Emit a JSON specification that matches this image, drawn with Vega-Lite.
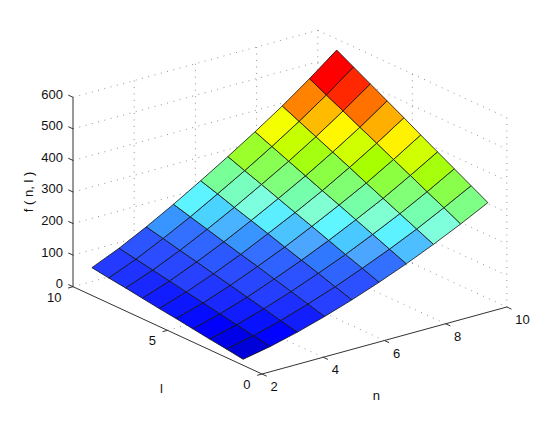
{
"$schema":"https://vega.github.io/schema/vega-lite/v6.json",
"width":560,"height":422,"padding":0,"autosize":{"type":"none"},"background":"white",
"projection":{"type":"identity","scale":1,"translate":[262,374]},
"datasets":{
"grid":[
{"n0":2,"l0":10,"z0":0,"n1":10,"l1":10,"z1":0},{"n0":2,"l0":10,"z0":100,"n1":10,"l1":10,"z1":100},{"n0":2,"l0":10,"z0":200,"n1":10,"l1":10,"z1":200},{"n0":2,"l0":10,"z0":300,"n1":10,"l1":10,"z1":300},{"n0":2,"l0":10,"z0":400,"n1":10,"l1":10,"z1":400},{"n0":2,"l0":10,"z0":500,"n1":10,"l1":10,"z1":500},{"n0":2,"l0":10,"z0":600,"n1":10,"l1":10,"z1":600},
{"n0":10,"l0":10,"z0":0,"n1":10,"l1":0,"z1":0},{"n0":10,"l0":10,"z0":100,"n1":10,"l1":0,"z1":100},{"n0":10,"l0":10,"z0":200,"n1":10,"l1":0,"z1":200},{"n0":10,"l0":10,"z0":300,"n1":10,"l1":0,"z1":300},{"n0":10,"l0":10,"z0":400,"n1":10,"l1":0,"z1":400},{"n0":10,"l0":10,"z0":500,"n1":10,"l1":0,"z1":500},{"n0":10,"l0":10,"z0":600,"n1":10,"l1":0,"z1":600},
{"n0":4,"l0":10,"z0":0,"n1":4,"l1":10,"z1":600},{"n0":6,"l0":10,"z0":0,"n1":6,"l1":10,"z1":600},{"n0":8,"l0":10,"z0":0,"n1":8,"l1":10,"z1":600},{"n0":10,"l0":10,"z0":0,"n1":10,"l1":10,"z1":600},{"n0":10,"l0":5,"z0":0,"n1":10,"l1":5,"z1":600},{"n0":10,"l0":0,"z0":0,"n1":10,"l1":0,"z1":600},
{"n0":4,"l0":0,"z0":0,"n1":4,"l1":10,"z1":0},{"n0":6,"l0":0,"z0":0,"n1":6,"l1":10,"z1":0},{"n0":8,"l0":0,"z0":0,"n1":8,"l1":10,"z1":0},{"n0":2,"l0":5,"z0":0,"n1":10,"l1":5,"z1":0}
],
"axes":[
{"n0":2,"l0":10,"z0":0,"n1":2,"l1":10,"z1":600},{"n0":2,"l0":0,"z0":0,"n1":2,"l1":10,"z1":0},{"n0":2,"l0":0,"z0":0,"n1":10,"l1":0,"z1":0},
{"n0":2,"l0":10,"z0":0,"n1":2,"l1":10.25,"z1":0},{"n0":2,"l0":10,"z0":100,"n1":2,"l1":10.25,"z1":100},{"n0":2,"l0":10,"z0":200,"n1":2,"l1":10.25,"z1":200},{"n0":2,"l0":10,"z0":300,"n1":2,"l1":10.25,"z1":300},{"n0":2,"l0":10,"z0":400,"n1":2,"l1":10.25,"z1":400},{"n0":2,"l0":10,"z0":500,"n1":2,"l1":10.25,"z1":500},{"n0":2,"l0":10,"z0":600,"n1":2,"l1":10.25,"z1":600},
{"n0":2,"l0":0,"z0":0,"n1":2,"l1":-0.25,"z1":0},{"n0":4,"l0":0,"z0":0,"n1":4,"l1":-0.25,"z1":0},{"n0":6,"l0":0,"z0":0,"n1":6,"l1":-0.25,"z1":0},{"n0":8,"l0":0,"z0":0,"n1":8,"l1":-0.25,"z1":0},{"n0":10,"l0":0,"z0":0,"n1":10,"l1":-0.25,"z1":0},
{"n0":2,"l0":0,"z0":0,"n1":1.84,"l1":0,"z1":0},{"n0":2,"l0":5,"z0":0,"n1":1.84,"l1":5,"z1":0},{"n0":2,"l0":10,"z0":0,"n1":1.84,"l1":10,"z1":0}
],
"cells":[
{"n0":2,"n1":2.889,"l0":1,"l1":1.889,"f00":19,"f10":36,"f11":46,"f01":27},
{"n0":2,"n1":2.889,"l0":1.889,"l1":2.778,"f00":27,"f10":46,"f11":56,"f01":34},
{"n0":2,"n1":2.889,"l0":2.778,"l1":3.667,"f00":34,"f10":56,"f11":66,"f01":42},
{"n0":2,"n1":2.889,"l0":3.667,"l1":4.556,"f00":42,"f10":66,"f11":76,"f01":50},
{"n0":2,"n1":2.889,"l0":4.556,"l1":5.444,"f00":50,"f10":76,"f11":86,"f01":57},
{"n0":2,"n1":2.889,"l0":5.444,"l1":6.333,"f00":57,"f10":86,"f11":96,"f01":65},
{"n0":2,"n1":2.889,"l0":6.333,"l1":7.222,"f00":65,"f10":96,"f11":106,"f01":73},
{"n0":2,"n1":2.889,"l0":7.222,"l1":8.111,"f00":73,"f10":106,"f11":116,"f01":80},
{"n0":2,"n1":2.889,"l0":8.111,"l1":9,"f00":80,"f10":116,"f11":126,"f01":88},
{"n0":2.889,"n1":3.778,"l0":1,"l1":1.889,"f00":36,"f10":58,"f11":70,"f01":46},
{"n0":2.889,"n1":3.778,"l0":1.889,"l1":2.778,"f00":46,"f10":70,"f11":83,"f01":56},
{"n0":2.889,"n1":3.778,"l0":2.778,"l1":3.667,"f00":56,"f10":83,"f11":95,"f01":66},
{"n0":2.889,"n1":3.778,"l0":3.667,"l1":4.556,"f00":66,"f10":95,"f11":108,"f01":76},
{"n0":2.889,"n1":3.778,"l0":4.556,"l1":5.444,"f00":76,"f10":108,"f11":120,"f01":86},
{"n0":2.889,"n1":3.778,"l0":5.444,"l1":6.333,"f00":86,"f10":120,"f11":133,"f01":96},
{"n0":2.889,"n1":3.778,"l0":6.333,"l1":7.222,"f00":96,"f10":133,"f11":145,"f01":106},
{"n0":2.889,"n1":3.778,"l0":7.222,"l1":8.111,"f00":106,"f10":145,"f11":158,"f01":116},
{"n0":2.889,"n1":3.778,"l0":8.111,"l1":9,"f00":116,"f10":158,"f11":170,"f01":126},
{"n0":3.778,"n1":4.667,"l0":1,"l1":1.889,"f00":58,"f10":84,"f11":99,"f01":70},
{"n0":3.778,"n1":4.667,"l0":1.889,"l1":2.778,"f00":70,"f10":99,"f11":114,"f01":83},
{"n0":3.778,"n1":4.667,"l0":2.778,"l1":3.667,"f00":83,"f10":114,"f11":129,"f01":95},
{"n0":3.778,"n1":4.667,"l0":3.667,"l1":4.556,"f00":95,"f10":129,"f11":144,"f01":108},
{"n0":3.778,"n1":4.667,"l0":4.556,"l1":5.444,"f00":108,"f10":144,"f11":158,"f01":120},
{"n0":3.778,"n1":4.667,"l0":5.444,"l1":6.333,"f00":120,"f10":158,"f11":173,"f01":133},
{"n0":3.778,"n1":4.667,"l0":6.333,"l1":7.222,"f00":133,"f10":173,"f11":188,"f01":145},
{"n0":3.778,"n1":4.667,"l0":7.222,"l1":8.111,"f00":145,"f10":188,"f11":203,"f01":158},
{"n0":3.778,"n1":4.667,"l0":8.111,"l1":9,"f00":158,"f10":203,"f11":218,"f01":170},
{"n0":4.667,"n1":5.556,"l0":1,"l1":1.889,"f00":84,"f10":113,"f11":130,"f01":99},
{"n0":4.667,"n1":5.556,"l0":1.889,"l1":2.778,"f00":99,"f10":130,"f11":148,"f01":114},
{"n0":4.667,"n1":5.556,"l0":2.778,"l1":3.667,"f00":114,"f10":148,"f11":165,"f01":129},
{"n0":4.667,"n1":5.556,"l0":3.667,"l1":4.556,"f00":129,"f10":165,"f11":182,"f01":144},
{"n0":4.667,"n1":5.556,"l0":4.556,"l1":5.444,"f00":144,"f10":182,"f11":200,"f01":158},
{"n0":4.667,"n1":5.556,"l0":5.444,"l1":6.333,"f00":158,"f10":200,"f11":217,"f01":173},
{"n0":4.667,"n1":5.556,"l0":6.333,"l1":7.222,"f00":173,"f10":217,"f11":234,"f01":188},
{"n0":4.667,"n1":5.556,"l0":7.222,"l1":8.111,"f00":188,"f10":234,"f11":252,"f01":203},
{"n0":4.667,"n1":5.556,"l0":8.111,"l1":9,"f00":203,"f10":252,"f11":269,"f01":218},
{"n0":5.556,"n1":6.444,"l0":1,"l1":1.889,"f00":113,"f10":145,"f11":165,"f01":130},
{"n0":5.556,"n1":6.444,"l0":1.889,"l1":2.778,"f00":130,"f10":165,"f11":184,"f01":148},
{"n0":5.556,"n1":6.444,"l0":2.778,"l1":3.667,"f00":148,"f10":184,"f11":204,"f01":165},
{"n0":5.556,"n1":6.444,"l0":3.667,"l1":4.556,"f00":165,"f10":204,"f11":224,"f01":182},
{"n0":5.556,"n1":6.444,"l0":4.556,"l1":5.444,"f00":182,"f10":224,"f11":243,"f01":200},
{"n0":5.556,"n1":6.444,"l0":5.444,"l1":6.333,"f00":200,"f10":243,"f11":263,"f01":217},
{"n0":5.556,"n1":6.444,"l0":6.333,"l1":7.222,"f00":217,"f10":263,"f11":283,"f01":234},
{"n0":5.556,"n1":6.444,"l0":7.222,"l1":8.111,"f00":234,"f10":283,"f11":302,"f01":252},
{"n0":5.556,"n1":6.444,"l0":8.111,"l1":9,"f00":252,"f10":302,"f11":322,"f01":269},
{"n0":6.444,"n1":7.333,"l0":1,"l1":1.889,"f00":145,"f10":180,"f11":202,"f01":165},
{"n0":6.444,"n1":7.333,"l0":1.889,"l1":2.778,"f00":165,"f10":202,"f11":224,"f01":184},
{"n0":6.444,"n1":7.333,"l0":2.778,"l1":3.667,"f00":184,"f10":224,"f11":246,"f01":204},
{"n0":6.444,"n1":7.333,"l0":3.667,"l1":4.556,"f00":204,"f10":246,"f11":268,"f01":224},
{"n0":6.444,"n1":7.333,"l0":4.556,"l1":5.444,"f00":224,"f10":268,"f11":289,"f01":243},
{"n0":6.444,"n1":7.333,"l0":5.444,"l1":6.333,"f00":243,"f10":289,"f11":311,"f01":263},
{"n0":6.444,"n1":7.333,"l0":6.333,"l1":7.222,"f00":263,"f10":311,"f11":333,"f01":283},
{"n0":6.444,"n1":7.333,"l0":7.222,"l1":8.111,"f00":283,"f10":333,"f11":355,"f01":302},
{"n0":6.444,"n1":7.333,"l0":8.111,"l1":9,"f00":302,"f10":355,"f11":377,"f01":322},
{"n0":7.333,"n1":8.222,"l0":1,"l1":1.889,"f00":180,"f10":218,"f11":242,"f01":202},
{"n0":7.333,"n1":8.222,"l0":1.889,"l1":2.778,"f00":202,"f10":242,"f11":266,"f01":224},
{"n0":7.333,"n1":8.222,"l0":2.778,"l1":3.667,"f00":224,"f10":266,"f11":290,"f01":246},
{"n0":7.333,"n1":8.222,"l0":3.667,"l1":4.556,"f00":246,"f10":290,"f11":314,"f01":268},
{"n0":7.333,"n1":8.222,"l0":4.556,"l1":5.444,"f00":268,"f10":314,"f11":339,"f01":289},
{"n0":7.333,"n1":8.222,"l0":5.444,"l1":6.333,"f00":289,"f10":339,"f11":363,"f01":311},
{"n0":7.333,"n1":8.222,"l0":6.333,"l1":7.222,"f00":311,"f10":363,"f11":387,"f01":333},
{"n0":7.333,"n1":8.222,"l0":7.222,"l1":8.111,"f00":333,"f10":387,"f11":411,"f01":355},
{"n0":7.333,"n1":8.222,"l0":8.111,"l1":9,"f00":355,"f10":411,"f11":435,"f01":377},
{"n0":8.222,"n1":9.111,"l0":1,"l1":1.889,"f00":218,"f10":259,"f11":286,"f01":242},
{"n0":8.222,"n1":9.111,"l0":1.889,"l1":2.778,"f00":242,"f10":286,"f11":312,"f01":266},
{"n0":8.222,"n1":9.111,"l0":2.778,"l1":3.667,"f00":266,"f10":312,"f11":339,"f01":290},
{"n0":8.222,"n1":9.111,"l0":3.667,"l1":4.556,"f00":290,"f10":339,"f11":365,"f01":314},
{"n0":8.222,"n1":9.111,"l0":4.556,"l1":5.444,"f00":314,"f10":365,"f11":392,"f01":339},
{"n0":8.222,"n1":9.111,"l0":5.444,"l1":6.333,"f00":339,"f10":392,"f11":418,"f01":363},
{"n0":8.222,"n1":9.111,"l0":6.333,"l1":7.222,"f00":363,"f10":418,"f11":445,"f01":387},
{"n0":8.222,"n1":9.111,"l0":7.222,"l1":8.111,"f00":387,"f10":445,"f11":471,"f01":411},
{"n0":8.222,"n1":9.111,"l0":8.111,"l1":9,"f00":411,"f10":471,"f11":498,"f01":435},
{"n0":9.111,"n1":10,"l0":1,"l1":1.889,"f00":259,"f10":303,"f11":332,"f01":286},
{"n0":9.111,"n1":10,"l0":1.889,"l1":2.778,"f00":286,"f10":332,"f11":361,"f01":312},
{"n0":9.111,"n1":10,"l0":2.778,"l1":3.667,"f00":312,"f10":361,"f11":390,"f01":339},
{"n0":9.111,"n1":10,"l0":3.667,"l1":4.556,"f00":339,"f10":390,"f11":419,"f01":365},
{"n0":9.111,"n1":10,"l0":4.556,"l1":5.444,"f00":365,"f10":419,"f11":449,"f01":392},
{"n0":9.111,"n1":10,"l0":5.444,"l1":6.333,"f00":392,"f10":449,"f11":478,"f01":418},
{"n0":9.111,"n1":10,"l0":6.333,"l1":7.222,"f00":418,"f10":478,"f11":507,"f01":445},
{"n0":9.111,"n1":10,"l0":7.222,"l1":8.111,"f00":445,"f10":507,"f11":536,"f01":471},
{"n0":9.111,"n1":10,"l0":8.111,"l1":9,"f00":471,"f10":536,"f11":565,"f01":498}
]
},
"layer":[
{"data":{"name":"grid"},
"transform":[{"calculate":"{type:'Feature',properties:{},geometry:{type:'LineString',coordinates:[[30.6*(datum.n0-2)-18.9*datum.l0,-8.375*(datum.n0-2)-8.73*datum.l0-0.3157*datum.z0],[30.6*(datum.n1-2)-18.9*datum.l1,-8.375*(datum.n1-2)-8.73*datum.l1-0.3157*datum.z1]]}}","as":"geo"}],
"mark":{"type":"geoshape","filled":false,"stroke":"#777777","strokeWidth":0.8,"strokeDash":[1,5.5]},
"encoding":{"shape":{"field":"geo","type":"geojson"}}},
{"data":{"name":"axes"},
"transform":[{"calculate":"{type:'Feature',properties:{},geometry:{type:'LineString',coordinates:[[30.6*(datum.n0-2)-18.9*datum.l0,-8.375*(datum.n0-2)-8.73*datum.l0-0.3157*datum.z0],[30.6*(datum.n1-2)-18.9*datum.l1,-8.375*(datum.n1-2)-8.73*datum.l1-0.3157*datum.z1]]}}","as":"geo"}],
"mark":{"type":"geoshape","filled":false,"stroke":"#333333","strokeWidth":1},
"encoding":{"shape":{"field":"geo","type":"geojson"}}},
{"data":{"name":"cells"},
"transform":[{"calculate":"{type:'Feature',properties:{},geometry:{type:'Polygon',coordinates:[[[30.6*(datum.n0-2)-18.9*datum.l0,-8.375*(datum.n0-2)-8.73*datum.l0-0.3157*datum.f00],[30.6*(datum.n1-2)-18.9*datum.l0,-8.375*(datum.n1-2)-8.73*datum.l0-0.3157*datum.f10],[30.6*(datum.n1-2)-18.9*datum.l1,-8.375*(datum.n1-2)-8.73*datum.l1-0.3157*datum.f11],[30.6*(datum.n0-2)-18.9*datum.l1,-8.375*(datum.n0-2)-8.73*datum.l1-0.3157*datum.f01],[30.6*(datum.n0-2)-18.9*datum.l0,-8.375*(datum.n0-2)-8.73*datum.l0-0.3157*datum.f00]]]}}","as":"geo"}],
"mark":{"type":"geoshape","stroke":"#111111","strokeWidth":0.8,"fillOpacity":1},
"encoding":{"shape":{"field":"geo","type":"geojson"},
"color":{"field":"f00","type":"quantitative","legend":null,"scale":{"domain":[19,27,35,60,85,113,130,145,165,180,195,205,218,225,261,290,314,340,360,390,415,445,471],"range":["#0000d8","#0000e8","#0000ff","#1420ff","#2840ff","#2c50ff","#3064ff","#3470ff","#4ca5ff","#4dbeff","#58e4ff","#60f8ff","#80ffdc","#80ffd0","#80ff80","#8cff40","#a8ff00","#d0ff00","#ffff00","#ffb400","#ff7800","#ff2800","#ff0000"]}}}},
{"data":{"values":[{"t":"2","n":2},{"t":"4","n":4},{"t":"6","n":6},{"t":"8","n":8},{"t":"10","n":10}]},
"transform":[{"calculate":"30.6*(datum.n-2)","as":"sx"},{"calculate":"-8.375*(datum.n-2)","as":"sy"}],
"mark":{"type":"text","font":"Liberation Sans","fontSize":13,"align":"left","baseline":"middle","dx":8.5,"dy":13,"color":"#111111"},
"encoding":{"longitude":{"field":"sx","type":"quantitative"},"latitude":{"field":"sy","type":"quantitative"},"text":{"field":"t"}}},
{"data":{"values":[{"t":"0","l":0},{"t":"5","l":5},{"t":"10","l":10}]},
"transform":[{"calculate":"-18.9*datum.l","as":"sx"},{"calculate":"-8.73*datum.l","as":"sy"}],
"mark":{"type":"text","font":"Liberation Sans","fontSize":13,"align":"right","baseline":"middle","dx":-11.5,"dy":11,"color":"#111111"},
"encoding":{"longitude":{"field":"sx","type":"quantitative"},"latitude":{"field":"sy","type":"quantitative"},"text":{"field":"t"}}},
{"data":{"values":[{"t":"0","z":0},{"t":"100","z":100},{"t":"200","z":200},{"t":"300","z":300},{"t":"400","z":400},{"t":"500","z":500},{"t":"600","z":600}]},
"transform":[{"calculate":"-189","as":"sx"},{"calculate":"-87.3-0.3157*datum.z","as":"sy"}],
"mark":{"type":"text","font":"Liberation Sans","fontSize":13,"align":"right","baseline":"middle","dx":-10,"dy":-2.5,"color":"#111111"},
"encoding":{"longitude":{"field":"sx","type":"quantitative"},"latitude":{"field":"sy","type":"quantitative"},"text":{"field":"t"}}},
{"data":{"values":[{"t":"n","n":6}]},
"transform":[{"calculate":"30.6*(datum.n-2)","as":"sx"},{"calculate":"-8.375*(datum.n-2)","as":"sy"}],
"mark":{"type":"text","font":"Liberation Sans","fontSize":13,"align":"center","baseline":"middle","dx":-8,"dy":55,"color":"#111111"},
"encoding":{"longitude":{"field":"sx","type":"quantitative"},"latitude":{"field":"sy","type":"quantitative"},"text":{"field":"t"}}},
{"data":{"values":[{"t":"l","l":5}]},
"transform":[{"calculate":"-18.9*datum.l","as":"sx"},{"calculate":"-8.73*datum.l","as":"sy"}],
"mark":{"type":"text","font":"Liberation Sans","fontSize":13,"align":"center","baseline":"middle","dx":-6,"dy":59,"color":"#111111"},
"encoding":{"longitude":{"field":"sx","type":"quantitative"},"latitude":{"field":"sy","type":"quantitative"},"text":{"field":"t"}}},
{"data":{"values":[{"t":"f ( n, l )","z":300}]},
"transform":[{"calculate":"-189","as":"sx"},{"calculate":"-87.3-0.3157*datum.z","as":"sy"}],
"mark":{"type":"text","font":"Liberation Sans","fontSize":13,"align":"center","baseline":"middle","angle":270,"dx":0,"dy":-44,"color":"#111111"},
"encoding":{"longitude":{"field":"sx","type":"quantitative"},"latitude":{"field":"sy","type":"quantitative"},"text":{"field":"t"}}}
]
}
